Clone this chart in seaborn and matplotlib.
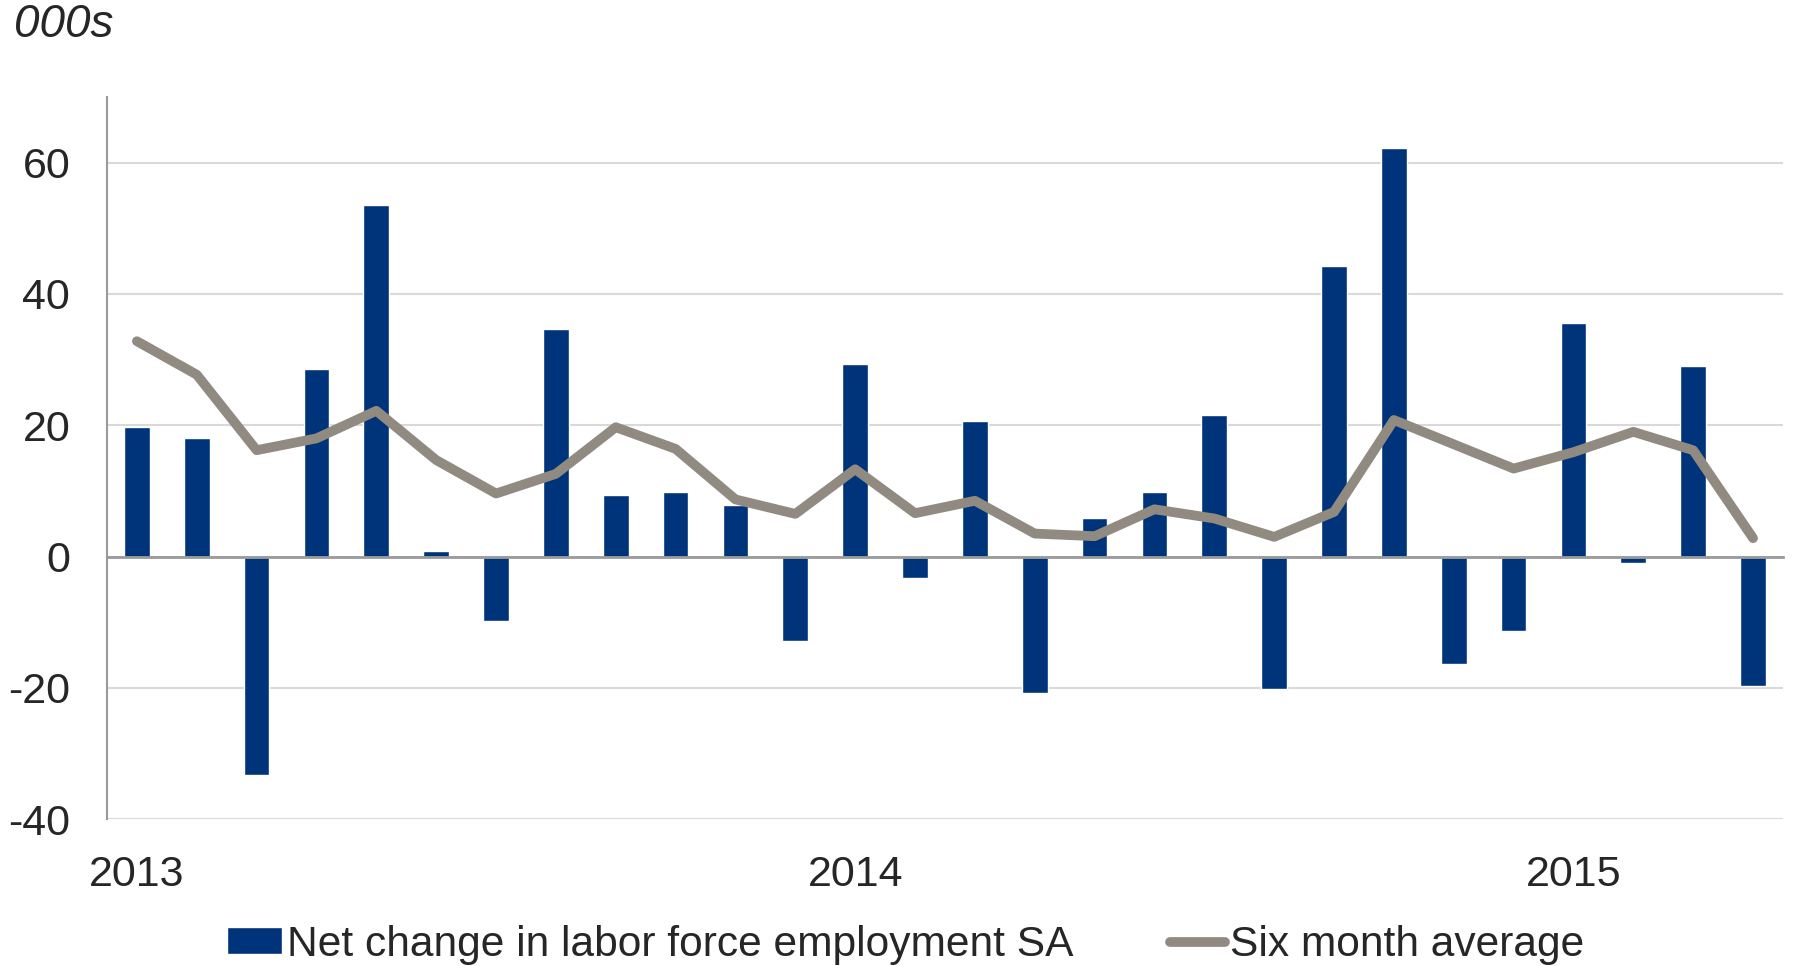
import matplotlib
matplotlib.use("Agg")
import matplotlib.pyplot as plt
import seaborn as sns
import pandas as pd

# monthly data, Jan 2013 - Apr 2015 (000s)
months = pd.date_range("2013-01-01", "2015-04-01", freq="MS").strftime("%Y-%m").tolist()
net_change = [19.8, 18.1, -33.3, 28.6, 53.5, 0.9, -9.8, 34.7, 9.4, 9.8, 7.8, -12.9,
              29.3, -3.3, 20.6, -20.8, 5.9, 9.9, 21.5, -20.1, 44.3, 62.3, -16.4, -11.3,
              35.6, -1.0, 29.0, -19.7]
six_month_avg = [32.8, 27.7, 16.2, 18.0, 22.2, 14.7, 9.6, 12.6, 19.7, 16.4, 8.7, 6.5,
                 13.3, 6.6, 8.5, 3.5, 3.1, 7.2, 5.8, 3.0, 6.8, 20.8, 17.1, 13.4,
                 15.9, 19.0, 16.2, 2.8]
year_labels = ["2013", "2014", "2015"]

df = pd.DataFrame({"month": months, "net": net_change, "avg": six_month_avg})
df["pos"] = range(len(df))

sns.set_style("white")
plt.rcParams["font.family"] = ["Liberation Sans", "DejaVu Sans"]
plt.rcParams["axes.unicode_minus"] = False

BAR = "#00347A"
LINE = "#918A80"
GRID = "#D9D9D9"
AXIS = "#9A9A9A"

fig = plt.figure(figsize=(17.95, 9.66), dpi=100)
ax = fig.add_axes([0.0596, 0.152, 0.9337, 0.7476])

sns.barplot(data=df, x="pos", y="net", color=BAR, width=0.43, saturation=1,
            ax=ax, label="Net change in labor force employment SA", zorder=2)
sns.lineplot(data=df, x="pos", y="avg", color=LINE, linewidth=7, ax=ax,
             label="Six month average", zorder=4, solid_capstyle="round")

ax.set_xlim(-0.5, len(df) - 0.5)
ax.set_ylim(-40, 70)
ax.set_yticks(range(-40, 61, 20))
ax.yaxis.grid(True, color=GRID, linewidth=1.5, zorder=0)
ax.set_axisbelow(True)

ax.spines["top"].set_visible(False)
ax.spines["right"].set_visible(False)
ax.spines["left"].set_color(AXIS)
ax.spines["left"].set_linewidth(1.5)
ax.spines["bottom"].set_position(("data", 0))
ax.spines["bottom"].set_color(AXIS)
ax.spines["bottom"].set_linewidth(2)
ax.spines["bottom"].set_zorder(3)

# year boundaries on the zero line
jan_pos = [i for i, m in enumerate(months) if m.endswith("-01")]
ax.set_xticks([p - 0.5 for p in jan_pos[1:]])
ax.set_xticklabels([])
ax.tick_params(axis="x", direction="out", length=9, width=1.5, color=AXIS)
ax.tick_params(axis="y", direction="out", length=9.5, width=1.5, color=AXIS,
               labelsize=31, pad=17)
ax.set_xlabel("")
ax.set_ylabel("")

sec = ax.secondary_xaxis("bottom")
sec.set_xticks(jan_pos)
sec.set_xticklabels(year_labels)
sec.tick_params(length=0, labelsize=31, pad=26)
sec.spines["bottom"].set_visible(False)

fig.text(14 / 1795, 1 - 25 / 966, "000s", fontsize=33, style="italic", va="center")

handles, labels = ax.get_legend_handles_labels()
ax.get_legend().remove()
order = [labels.index("Net change in labor force employment SA"),
         labels.index("Six month average")]
fig.legend([handles[i] for i in order], [labels[i] for i in order],
           loc="center", bbox_to_anchor=(0.5045, 0.022), ncol=2,
           frameon=False, fontsize=30.6, handlelength=1.3, handleheight=0.6,
           handletextpad=0.13, columnspacing=2.25)

fig.savefig("out.png", dpi=100)
